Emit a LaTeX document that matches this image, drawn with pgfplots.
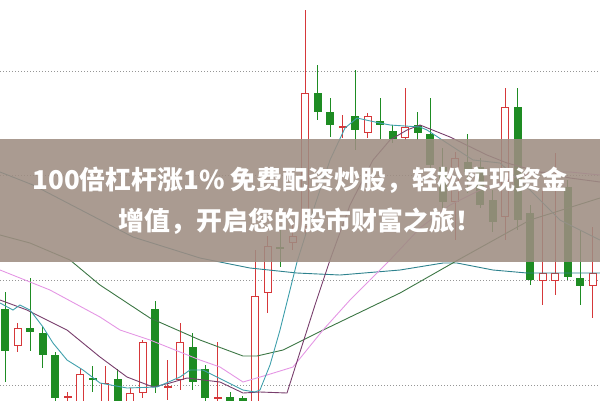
\documentclass[border=0pt]{standalone}
\usepackage{pgfplots}
\usepackage{pgfplotstable}
\pgfplotsset{compat=1.18}
\usepackage{fontspec}
\newfontfamily\cjk{Noto Sans CJK SC}
\definecolor{cred}{RGB}{214,56,58}
\definecolor{cgreen}{RGB}{30,140,35}
\definecolor{ma5}{RGB}{64,160,172}
\definecolor{ma10}{RGB}{120,62,108}
\definecolor{ma20}{RGB}{228,150,228}
\definecolor{ma60}{RGB}{60,118,68}
\definecolor{ma120}{RGB}{46,130,142}
\definecolor{gridc}{RGB}{150,150,150}
\definecolor{bannerc}{RGB}{158,141,130}

% candles in picture units: top/bottom of body, high/low of wick
\pgfplotstableread{
x top bot hi lo
5 309 351 292 382
30 328 332 278 351
42.5 333 355 327 368
55 355 398 352 405
92.5 378 380 366 392
117.5 379 410 369 415
155 309 387 301 393
192.5 347 382 333 390
205 369 398 365 405
230 397 410 392 415
242.5 398 410 396 415
280 247 248.5 230 267
317.5 93 112 65 120
330 112 125 98 137
355 116 130 70 150
380 121 125 98 139
392.5 131 139 125 143
417.5 125 133 112 140
430 134 165 98 170
442.5 167 202 148 208
467.5 162 172 134 193
480 167 205 158 208
492.5 200 222 190 232
517.5 107 220 88 230
530 213 280 205 285
567.5 187 277 180 280
580 278 286 230 305
}\greenT

\pgfplotstableread{
x top bot hi lo
17.5 328 346 323 352
80 374 410 369 415
105 383 410 366 415
130 393 410 388 415
142.5 342 393 340 398
180 342 380 323 390
255 296 410 250 415
267.5 246 293 236 313
292.5 236 243 225 250
305 93 227 10 235
367.5 116 133 113 138
405 127 138 88 140
455 158 202 152 240
505 107 217 88 240
542.5 273 281 190 305
555 273 281 153 295
592.5 273 286 227 318
}\redT

\pgfplotstableread{
x top bot hi lo
67.5 396 397.5 392 405
167.5 386 387.5 360 400
217.5 397 398.5 342 405
342.5 126 127.5 115 138
}\dojiT

\begin{document}
\begin{tikzpicture}
\begin{axis}[
  width=600bp, height=400bp, scale only axis,
  xmin=0, xmax=600, ymin=0, ymax=400, y dir=reverse,
  axis line style={draw=none}, xtick=\empty, ytick=\empty,
  clip=true,
]
% grid lines
\addplot[gridc, line width=1bp, dash pattern=on 1bp off 2bp, forget plot] coordinates {(0,71) (600,71)};
\addplot[gridc, line width=1bp, dash pattern=on 1bp off 2bp, forget plot] coordinates {(0,175) (600,175)};
\addplot[gridc, line width=1bp, dash pattern=on 1bp off 2bp, forget plot] coordinates {(0,280) (600,280)};
\addplot[gridc, line width=1bp, dash pattern=on 1bp off 2bp, forget plot] coordinates {(0,385) (600,385)};

% wicks
\addplot[draw=none, mark=none, forget plot, error bars/.cd, y dir=plus, y explicit, error mark=none,
  error bar style={draw=cgreen, line width=1bp}]
  table[x=x, y=hi, y error plus expr=\thisrow{lo}-\thisrow{hi}] {\greenT};
\addplot[draw=none, mark=none, forget plot, error bars/.cd, y dir=plus, y explicit, error mark=none,
  error bar style={draw=cred, line width=1bp}]
  table[x=x, y=hi, y error plus expr=\thisrow{lo}-\thisrow{hi}] {\redT};
\addplot[draw=none, mark=none, forget plot, error bars/.cd, y dir=plus, y explicit, error mark=none,
  error bar style={draw=cred, line width=1bp}]
  table[x=x, y=hi, y error plus expr=\thisrow{lo}-\thisrow{hi}] {\dojiT};
% bodies
\addplot[draw=none, mark=none, forget plot, error bars/.cd, y dir=plus, y explicit, error mark=none,
  error bar style={draw=cgreen, line width=8bp}]
  table[x=x, y=top, y error plus expr=\thisrow{bot}-\thisrow{top}] {\greenT};
\addplot[draw=none, mark=none, forget plot, error bars/.cd, y dir=plus, y explicit, error mark=none,
  error bar style={draw=cred, line width=8bp}]
  table[x=x, y=top, y error plus expr=\thisrow{bot}-\thisrow{top}] {\redT};
\addplot[draw=none, mark=none, forget plot, error bars/.cd, y dir=plus, y explicit, error mark=none,
  error bar style={draw=white, line width=6bp}]
  table[x=x, y expr=\thisrow{top}+1, y error plus expr=\thisrow{bot}-\thisrow{top}-2] {\redT};
\addplot[draw=none, mark=none, forget plot, error bars/.cd, y dir=plus, y explicit, error mark=none,
  error bar style={draw=cred, line width=8bp}]
  table[x=x, y=top, y error plus expr=\thisrow{bot}-\thisrow{top}] {\dojiT};

% moving averages
\addplot[ma120, line width=0.9bp, mark=none] coordinates {
(0,172) (33,185) (133,237) (200,258) (250,268) (297,273) (340,275) (400,270) (443,263) (457,263) (493,270) (527,273) (600,273)};
\addplot[ma60, line width=0.9bp, mark=none] coordinates {
(0,235) (30,243) (70,260) (100,285) (150,318) (200,340) (243,356) (257,356) (283,350) (317,333) (400,293) (458,260) (530,220) (600,198)};
\addplot[ma20, line width=0.9bp, mark=none] coordinates {
(0,270) (50,290) (100,317) (120,330) (150,340) (200,360) (220,367) (243,382) (267,375) (293,367) (323,330) (350,300) (390,260) (420,228) (450,205) (480,190) (510,178) (540,172) (570,172) (600,175)};
\addplot[ma10, line width=0.9bp, mark=none] coordinates {
(0,300) (27,310) (67,330) (100,357) (127,377) (153,387) (170,383) (187,378) (220,382) (243,393) (260,392) (287,393) (300,352) (315,305) (330,260) (350,205) (373,160) (390,140) (407,130) (420,125) (450,137) (487,155) (507,163) (540,172) (570,178) (600,182)};
\addplot[ma5, line width=0.9bp, mark=none] coordinates {
(0,303) (13,310) (20,305) (30,310) (43,327) (53,343) (67,360) (83,370) (100,383) (127,388) (157,387) (180,377) (190,370) (203,370) (217,377) (243,390) (255,392) (260,390) (270,365) (280,330) (297,262) (315,205) (330,160) (345,128) (357,118) (375,122) (390,125) (405,126) (420,127) (427,130) (450,145) (473,160) (500,163) (530,190) (560,220) (600,240)};

% banner
\fill[bannerc, fill opacity=0.88] (axis cs:0,139) rectangle (axis cs:600,262);
\node[text=white, font=\cjk\bfseries\fontsize{26}{41}\selectfont, align=center] at (axis cs:300,201)
  {100倍杠杆涨1\% 免费配资炒股，轻松实现资金\\增值，开启您的股市财富之旅！};
\end{axis}
\end{tikzpicture}
\end{document}
